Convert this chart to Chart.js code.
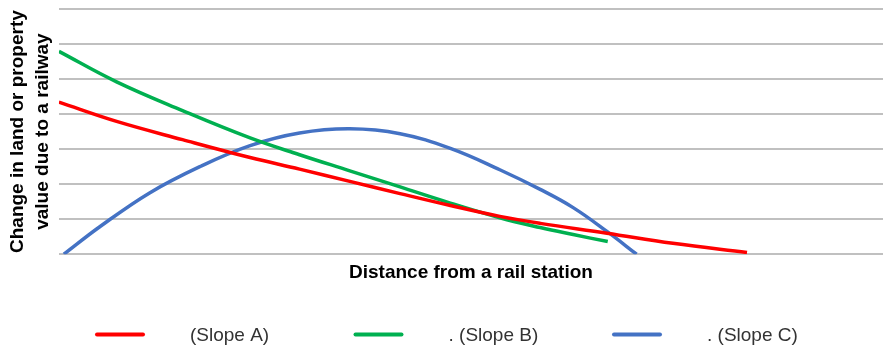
<!DOCTYPE html>
<html>
<head>
<meta charset="utf-8">
<script src="https://cdn.jsdelivr.net/npm/chart.js@4.4.1/dist/chart.umd.min.js"></script>
<style>
  html, body { margin: 0; padding: 0; background: #fff; }
  #wrap { width: 890px; height: 353px; }
</style>
</head>
<body>
<div id="wrap"><canvas id="slopeChart" width="890" height="353"></canvas></div>
<script>
// 거리(0~100) 대비 지가 변화 - 그림에서 읽은 값
var slopeLabels = ["(Slope A)", ". (Slope B)", ". (Slope C)"];

var slopeAX = [0, 7.0, 15.0, 23.2, 29.2, 35.3, 41.4, 47.5, 53.5, 58.4, 66.5, 74.5, 83.5];
var slopeAY = [4.34, 3.79, 3.27, 2.76, 2.43, 2.08, 1.73, 1.39, 1.08, 0.88, 0.60, 0.31, 0.05];

var slopeBX = [0, 7.0, 15.0, 23.2, 29.2, 35.3, 41.4, 47.5, 53.5, 58.4, 62.4, 66.6];
var slopeBY = [5.79, 4.92, 4.10, 3.32, 2.84, 2.38, 1.92, 1.46, 1.04, 0.76, 0.56, 0.36];

var slopeCX = [0.6, 5.0, 11.0, 17.1, 23.2, 29.2, 35.3, 41.4, 47.5, 53.5, 58.4, 62.4, 66.5, 70.1];
var slopeCY = [0.0, 0.79, 1.75, 2.50, 3.10, 3.46, 3.58, 3.44, 3.02, 2.41, 1.85, 1.33, 0.65, 0.0];

var slopeColors = ["#ff0000", "#00b050", "#4472c4"];

function toPoints(xs, ys){
	var pts = [];
	for(var i=0; i<xs.length; i++){
		pts.push({x: xs[i], y: ys[i]});
	}
	return pts;
}

/**
 * 하단 범례 (선 + 텍스트 간격이 넓어서 직접 그림)
 */
var slopeLegend = {
	id: "slope_legend",
	afterDraw: function(chart){
		var ctx = chart.ctx;
		var cx = chart.width / 2;
		var step = 258.5;
		var startX = cx - 348;
		var y = 334.5;
		ctx.save();
		chart.data.datasets.forEach(function(ds, i){
			var x0 = startX + i * step;
			ctx.strokeStyle = ds.borderColor;
			ctx.lineWidth = 4;
			ctx.lineCap = "round";
			ctx.beginPath();
			ctx.moveTo(x0, y);
			ctx.lineTo(x0 + 46, y);
			ctx.stroke();
			ctx.fillStyle = "#333333";
			ctx.font = "19px 'Liberation Sans', Arial, sans-serif";
			ctx.textAlign = "left";
			ctx.textBaseline = "middle";
			ctx.fillText(ds.label, x0 + 93, y + 1);
		});
		ctx.restore();
	}
};

var datasets = [
	{ label: slopeLabels[0], data: toPoints(slopeAX, slopeAY), borderColor: slopeColors[0] },
	{ label: slopeLabels[1], data: toPoints(slopeBX, slopeBY), borderColor: slopeColors[1] },
	{ label: slopeLabels[2], data: toPoints(slopeCX, slopeCY), borderColor: slopeColors[2] }
];
datasets.forEach(function(ds){
	ds.backgroundColor = ds.borderColor;
	ds.borderWidth = 3.5;
	ds.pointRadius = 0;
	ds.fill = false;
	ds.tension = 0.4;
});

var ctx = document.getElementById("slopeChart").getContext("2d");
new Chart(ctx, {
	type: "line",
	data: { datasets: datasets },
	options: {
		responsive: false,
		animation: false,
		layout: { padding: { left: 0, right: 7, top: 9, bottom: 69 } },
		plugins: {
			legend: { display: false },
			tooltip: { enabled: false }
		},
		scales: {
			x: {
				type: "linear",
				min: 0,
				max: 100,
				ticks: { display: false },
				grid: { display: false, drawTicks: false },
				border: { display: false },
				title: {
					display: true,
					text: "Distance from a rail station",
					color: "#000",
					font: { family: "'Liberation Sans', Arial, sans-serif", size: 19, weight: "bold", lineHeight: 1.2 },
					padding: { top: 7, bottom: 0 }
				}
			},
			y: {
				min: 0,
				max: 7,
				ticks: { display: false, stepSize: 1 },
				grid: { color: "#c0c0c0", lineWidth: 2, drawTicks: false },
				border: { display: false },
				title: {
					display: true,
					text: ["Change in land or property", "value due to a railway"],
					color: "#000",
					font: { family: "'Liberation Sans', Arial, sans-serif", size: 19, weight: "bold", lineHeight: 1.34 },
					padding: { top: 5, bottom: 3 }
				}
			}
		}
	},
	plugins: [slopeLegend]
});
</script>
</body>
</html>
